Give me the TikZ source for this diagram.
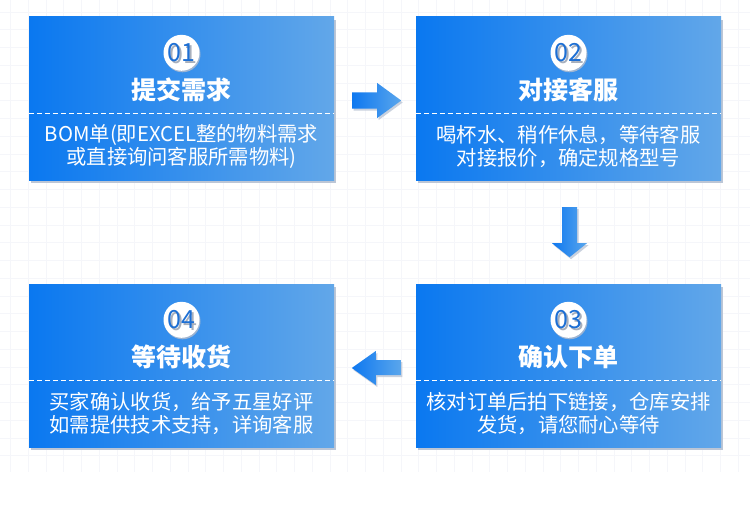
\documentclass[tikz,border=0pt]{standalone}
\usepackage{fontspec}
\setmainfont{Noto Sans CJK SC}
\usepackage{xcolor}
\usepackage{tikz}
\usetikzlibrary{calc,shadows}

\definecolor{boxL}{HTML}{0A78F0}
\definecolor{boxR}{HTML}{62A7E9}
\definecolor{arrL}{HTML}{0E78F0}
\definecolor{arrR}{HTML}{5AA6EC}
\definecolor{shadowC}{HTML}{BCC6D6}
\definecolor{badgeShadow}{HTML}{9DB4D2}
\definecolor{numC}{HTML}{1D6FD4}
\definecolor{numShadow}{HTML}{A7AFBC}
\definecolor{gridC}{HTML}{F5F6FA}

\begin{document}
\begin{tikzpicture}[
  x=1pt, y=-1pt,
  stepbox/.style={rectangle, minimum width=305pt, minimum height=163pt, inner sep=0pt,
    left color=boxL, right color=boxR,
    drop shadow={shadow xshift=2pt, shadow yshift=-3pt, fill=shadowC, opacity=1}},
  badge/.style={circle, fill=white, minimum size=36pt, inner sep=0pt,
    drop shadow={shadow xshift=1pt, shadow yshift=-1.5pt, fill=badgeShadow, opacity=1}},
  num/.style={font=\fontsize{25}{25}\selectfont, text=numC, inner sep=0pt},
  numshade/.style={num, text=numShadow},
  ttl/.style={font=\fontsize{25}{25}\selectfont\bfseries, text=white, inner sep=0pt},
  body/.style={font=\fontsize{20.3}{23}\selectfont, text=white, align=center, inner sep=0pt},
  sep/.style={white, dash pattern=on 5pt off 3pt, line width=1pt},
  blockarrow/.style={left color=arrL, right color=arrR,
    drop shadow={shadow xshift=1.5pt, shadow yshift=-2pt, fill=shadowC, opacity=.8}},
]
\useasboundingbox[fill=white] (0,0) rectangle (750,511);

% faint grid behind
\foreach \gx in {10.5,28.25,...,750}
  \draw[gridC, line width=.8pt] (\gx,0) -- (\gx,472);
\foreach \gy in {12,29.75,...,472}
  \draw[gridC, line width=.8pt] (0,\gy) -- (750,\gy);

% step 01
\node[stepbox] (s1) at (181.5,98.5) {};
\node[badge] (b1) at ($(s1.north)+(0,36)$) {};
\node[numshade] at ($(b1)+(1.5,1.5)$) {01};
\node[num] (n1) at (b1) {01};
\node[ttl] (t1) at ($(s1.north)+(0,73)$) {提交需求};
\draw[sep] ($(s1.north west)+(0,97)$) -- ($(s1.north east)+(0,97)$);
\node[body] (d1) at ($(s1.north)+(0,129.5)$) {BOM单(即EXCEL整的物料需求\\或直接询问客服所需物料)};

% step 02
\node[stepbox] (s2) at (568.5,98.5) {};
\node[badge] (b2) at ($(s2.north)+(0,36)$) {};
\node[numshade] at ($(b2)+(1.5,1.5)$) {02};
\node[num] (n2) at (b2) {02};
\node[ttl] (t2) at ($(s2.north)+(0,73)$) {对接客服};
\draw[sep] ($(s2.north west)+(0,97)$) -- ($(s2.north east)+(0,97)$);
\node[body] (d2) at ($(s2.north)+(0,129.5)$) {喝杯水、稍作休息，等待客服\\对接报价，确定规格型号};

% step 03
\node[stepbox] (s3) at (568.5,365.5) {};
\node[badge] (b3) at ($(s3.north)+(0,36)$) {};
\node[numshade] at ($(b3)+(1.5,1.5)$) {03};
\node[num] (n3) at (b3) {03};
\node[ttl] (t3) at ($(s3.north)+(0,73)$) {确认下单};
\draw[sep] ($(s3.north west)+(0,97)$) -- ($(s3.north east)+(0,97)$);
\node[body] (d3) at ($(s3.north)+(0,129.5)$) {核对订单后拍下链接，仓库安排\\发货，请您耐心等待};

% step 04
\node[stepbox] (s4) at (181.5,365.5) {};
\node[badge] (b4) at ($(s4.north)+(0,36)$) {};
\node[numshade] at ($(b4)+(1.5,1.5)$) {04};
\node[num] (n4) at (b4) {04};
\node[ttl] (t4) at ($(s4.north)+(0,73)$) {等待收货};
\draw[sep] ($(s4.north west)+(0,97)$) -- ($(s4.north east)+(0,97)$);
\node[body] (d4) at ($(s4.north)+(0,129.5)$) {买家确认收货，给予五星好评\\如需提供技术支持，详询客服};

% block arrows between the steps
\coordinate (a12) at ($(s1.east)+(18,2)$);
\path[blockarrow] (a12) ++(0,-8) -- ++(25,0) -- ++(0,-9.5) -- ++(24,17.5)
  -- ++(-24,17.5) -- ++(0,-9.5) -- ++(-25,0) -- cycle;
\coordinate (a23) at ($(s2.south)+(1,27)$);
\path[blockarrow] (a23) ++(-7.5,0) -- ++(15,0) -- ++(0,36) -- ++(10,0)
  -- ++(-17.5,14) -- ++(-17.5,-14) -- ++(10,0) -- cycle;
\coordinate (a34) at ($(s3.west)+(-15,2)$);
\path[blockarrow] (a34) ++(0,-7.5) -- ++(-25,0) -- ++(0,-9) -- ++(-24,17)
  -- ++(24,17) -- ++(0,-10) -- ++(25,0) -- cycle;
\end{tikzpicture}
\end{document}
